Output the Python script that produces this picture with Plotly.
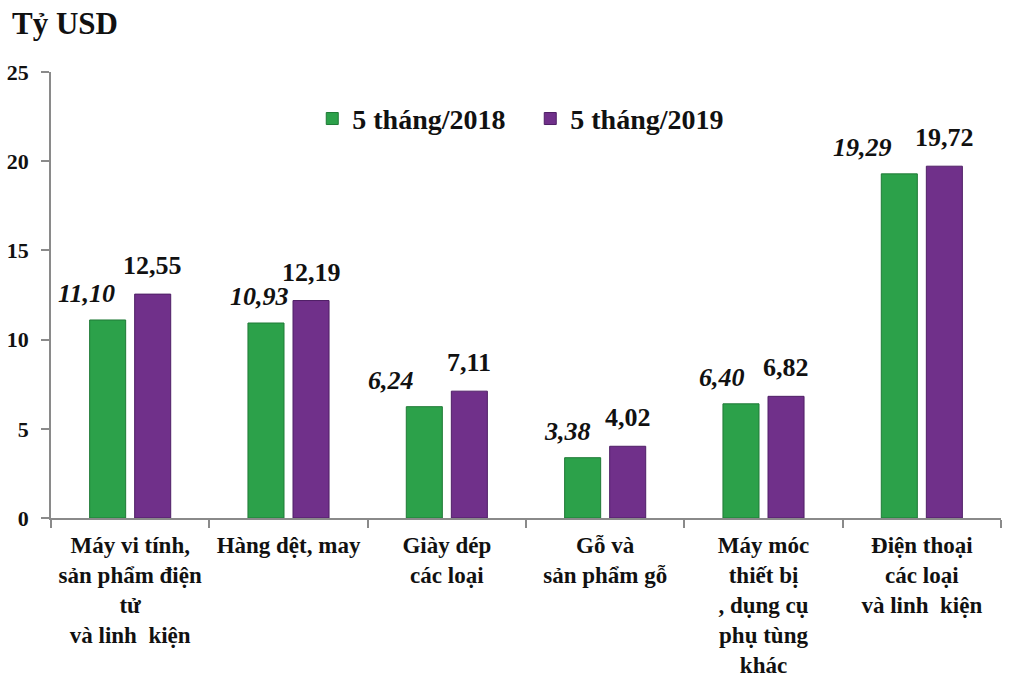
import plotly.graph_objects as go

categories = [
    "Máy vi tính,<br>sản phẩm điện<br>tử<br>và linh  kiện",
    "Hàng dệt, may",
    "Giày dép<br>các loại",
    "Gỗ và<br>sản phẩm gỗ",
    "Máy móc<br>thiết bị<br>, dụng cụ<br>phụ tùng<br>khác",
    "Điện thoại<br>các loại<br>và linh  kiện",
]
series_names = ["5 tháng/2018", "5 tháng/2019"]
values_2018 = [11.10, 10.93, 6.24, 3.38, 6.40, 19.29]
values_2019 = [12.55, 12.19, 7.11, 4.02, 6.82, 19.72]
labels_2018 = ["11,10", "10,93", "6,24", "3,38", "6,40", "19,29"]
labels_2019 = ["12,55", "12,19", "7,11", "4,02", "6,82", "19,72"]
y_ticks = [0, 5, 10, 15, 20, 25]

# label nudges (style only, pixels)
nudge_2018 = [-21, -7, -33, -15, -19, -37]

GREEN = "#2ca14a"
PURPLE = "#70308a"
FONT = "Liberation Serif"

fig = go.Figure()
fig.add_trace(go.Bar(x=categories, y=values_2018, name=series_names[0],
                     marker=dict(color=GREEN, line=dict(color="#1f7a36", width=1))))
fig.add_trace(go.Bar(x=categories, y=values_2019, name=series_names[1],
                     marker=dict(color=PURPLE, line=dict(color="#4f1f66", width=1))))

annotations = []
for i, c in enumerate(categories):
    annotations.append(dict(x=c, y=values_2018[i], xref="x", yref="y", text=labels_2018[i],
                            showarrow=False, xshift=-22.5 + nudge_2018[i], yanchor="bottom", yshift=10,
                            font=dict(family=FONT, size=26, color="#111", weight="bold", style="italic")))
    annotations.append(dict(x=c, y=values_2019[i], xref="x", yref="y", text=labels_2019[i],
                            showarrow=False, xshift=22.5, yanchor="bottom", yshift=12,
                            font=dict(family=FONT, size=26, color="#111", weight="bold")))

fig.update_layout(
    width=1024, height=690,
    margin=dict(l=51, r=23, t=72, b=172, autoexpand=False),
    paper_bgcolor="white", plot_bgcolor="white",
    barmode="group", bargap=0.431, bargroupgap=0.2,
    font=dict(family=FONT, color="#111"),
    title=dict(text="Tỷ USD", x=12/1024, xanchor="left", xref="container",
               y=1 - 23/690, yanchor="middle", yref="container",
               font=dict(family=FONT, size=31, color="#111", weight="bold")),
    legend=dict(orientation="h", x=0.275, y=0.895, xanchor="left", yanchor="middle",
                font=dict(family=FONT, size=28, color="#111", weight="bold"),
                bgcolor="rgba(0,0,0,0)", entrywidth=173, entrywidthmode="pixels"),
    showlegend=True,
    annotations=annotations,
)
fig.update_xaxes(showline=True, linecolor="#8a8a8a", linewidth=1.5, showgrid=False,
                 ticks="outside", tickson="boundaries", ticklen=8, tickcolor="#8a8a8a", tickwidth=1.5,
                 tickfont=dict(family=FONT, size=23, color="#111", weight="bold"),
                 ticklabelstandoff=6, tickangle=0)
fig.update_yaxes(range=[0, 25], tickvals=y_ticks, showline=True, linecolor="#8a8a8a", linewidth=1.5,
                 showgrid=False, zeroline=False, ticks="outside", ticklen=8, tickcolor="#8a8a8a",
                 tickwidth=1.5, tickfont=dict(family=FONT, size=22, color="#111", weight="bold"),
                 ticklabelstandoff=8)

fig.write_html("out.html", config={"displayModeBar": False},
               post_script="document.body.style.margin='0px';")
